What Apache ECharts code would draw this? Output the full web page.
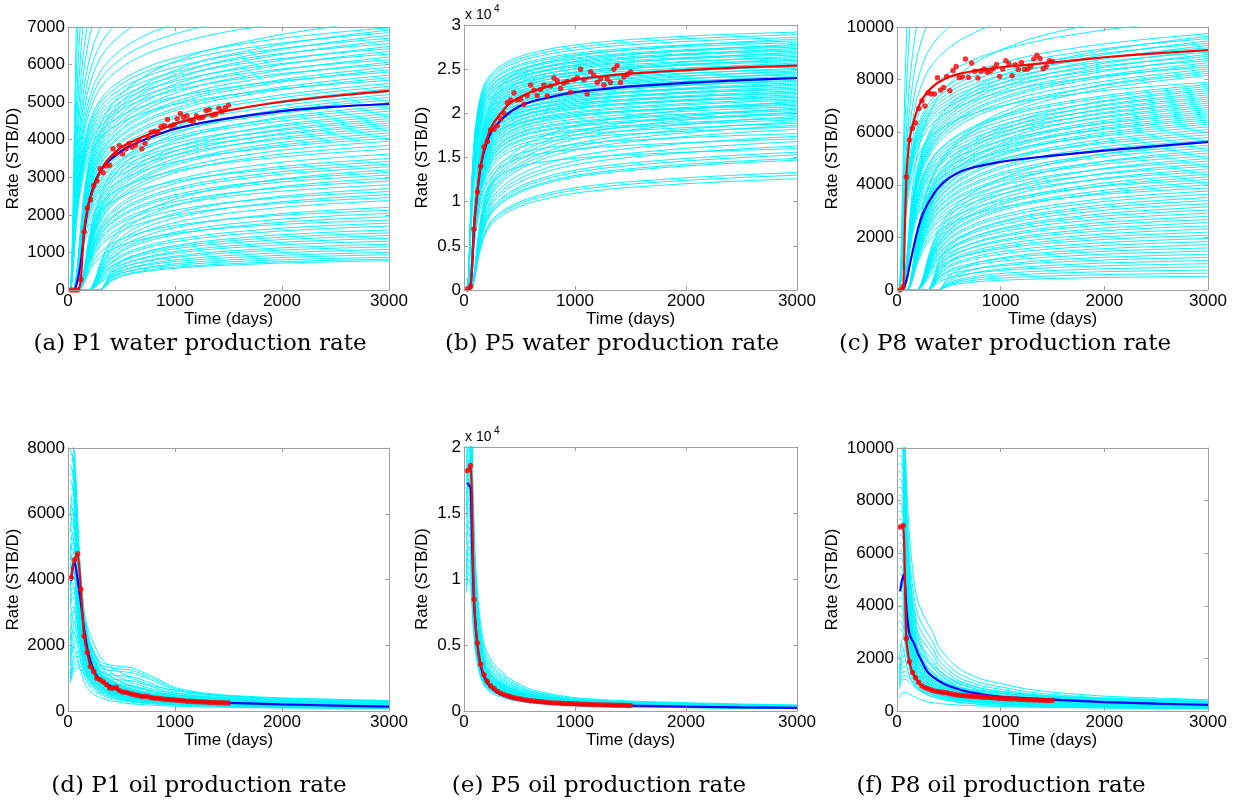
<!DOCTYPE html>
<html><head><meta charset="utf-8">
<script src="https://cdn.jsdelivr.net/npm/echarts@6/dist/echarts.min.js"></script>
<style>html,body{margin:0;padding:0;background:#fff}#c{width:1242px;height:810px}</style>
</head><body><div id="c"></div><script>
// ---------------- DATA ----------------
const CAPTIONS = ['(a) P1 water production rate','(b) P5 water production rate','(c) P8 water production rate',
                  '(d) P1 oil production rate','(e) P5 oil production rate','(f) P8 oil production rate'];
const X_TICKS = [0,1000,2000,3000];
// ensemble time grids (days)
const WATER_T = [0,20,40,60,80,100,125,150,175,200,250,300,350,400,500,600,800,1000,1250,1500,2000,2500,3000];
const OIL_T = [20,40,60,80,100,125,150,175,200,250,300,350,400,500,600,800,1000,1250,1500,2000,2500,3000];
// observation times (days)
const OBS_T = [30,60,90,120,150,180,210,240,270,300,330,360,390,420,450,480,510,540,570,600,630,660,690,720,750,780,810,840,870,900,930,960,990,1020,1050,1080,1110,1140,1170,1200,1230,1260,1290,1320,1350,1380,1410,1440,1470,1500];

// water ensemble shape profiles (fraction of the member's rate at 3000 d), read from the fans
const W_PROFILES = [
 [0,0,0.06,0.2,0.33,0.42,0.5,0.56,0.605,0.64,0.69,0.725,0.75,0.77,0.8,0.825,0.86,0.885,0.91,0.93,0.96,0.982,1],
 [0,0,0,0.01,0.06,0.14,0.26,0.36,0.43,0.485,0.56,0.61,0.65,0.68,0.725,0.76,0.81,0.845,0.88,0.905,0.945,0.975,1],
 [0,0,0,0,0,0,0.03,0.1,0.19,0.27,0.39,0.47,0.53,0.575,0.64,0.69,0.76,0.81,0.855,0.89,0.94,0.973,1],
 [0,0,0,0,0,0,0,0,0,0,0.08,0.22,0.33,0.41,0.52,0.595,0.69,0.755,0.815,0.86,0.925,0.968,1],
 [0,0,0,0,0,0,0,0,0,0,0,0,0.12,0.3,0.47,0.56,0.67,0.74,0.805,0.85,0.92,0.965,1],
 [0,0,0,0,0,0,0,0,0,0,0,0,0,0,0.3,0.46,0.62,0.71,0.785,0.84,0.915,0.962,1]
];
// (a) P1 water: members [rate at 3000 d, profile]
const A_MEMBERS = [[22000,0],[18000,0],[15000,0],[13000,0],[11500,0],[10500,0],[9600,0],[9000,0],[8500,0],[8000,0],[7700,0],[7400,0],[7200,1],
 [6980,0],[6920,1],[6850,0],[6780,1],[6700,0],[6640,1],[6560,0],[6480,1],[6420,0],[6350,1],[6280,0],[6200,1],[6130,0],[6060,1],[6000,0],[5930,1],[5860,1],[5800,0],[5720,1],[5650,1],[5580,0],[5500,1],
 [5420,1],[5350,2],[5280,1],[5200,1],[5130,2],[5060,1],[4980,1],[4900,2],[4830,1],[4760,1],[4690,2],[4620,1],[4560,2],[4500,1],[4440,2],[4380,1],[4320,2],[4250,1],[4180,2],[4110,2],[4040,1],[3960,2],
 [3850,2],[3750,1],[3620,2],[3500,2],[3420,1],[3350,2],[3280,2],[3200,3],[3130,2],[3060,2],[2980,3],[2900,2],[2800,2],[2700,3],[2620,2],[2540,3],[2460,2],[2380,3],
 [2200,3],[2120,2],[2040,3],[1950,3],[1860,2],[1780,3],[1700,3],[1600,4],[1520,3],[1450,3],[1380,4],[1300,3],[1220,4],[1150,3],[1080,4],[1000,3],[940,4],[870,3],[820,4],[780,4]];
const A_BLUE_T = [30,60,80,100,125,150,175,200,250,300,350,400,500,600,800,1000,1250,1500,2000,2500,3000];
const A_BLUE = [0,0,150,400,850,1500,2000,2380,2850,3150,3340,3480,3700,3860,4100,4290,4450,4570,4760,4880,4950];
const A_RED_T = [30,90,105,120,150,180,210,240,270,300,350,400,500,600,700,800,1000,1250,1500,2000,2500,3000];
const A_RED = [0,0,60,270,1550,2150,2450,2720,2950,3150,3380,3550,3800,3950,4080,4200,4420,4620,4780,5010,5170,5300];
const A_OBS = [0,0,0,270,1550,2180,2400,2780,2900,3230,3120,3300,3320,3760,3640,3840,3620,3760,3900,3800,3850,3980,3760,3900,4060,4200,4220,4200,4350,4380,4540,4360,4400,4560,4700,4600,4640,4520,4480,4640,4580,4600,4780,4800,4650,4680,4840,4750,4850,4920];

// (b) P5 water
const B_PROFILES = [
 [0,0,0.05,0.3,0.5,0.62,0.7,0.755,0.79,0.812,0.84,0.86,0.875,0.887,0.905,0.918,0.937,0.95,0.962,0.971,0.984,0.993,1],
 [0,0,0,0.06,0.22,0.37,0.5,0.59,0.65,0.695,0.755,0.795,0.823,0.845,0.873,0.892,0.916,0.932,0.947,0.958,0.975,0.989,1],
 [0,0,0,0,0.04,0.13,0.27,0.38,0.46,0.52,0.595,0.64,0.675,0.705,0.75,0.785,0.835,0.87,0.9,0.922,0.955,0.98,1]
];
const B_MEMBERS = [[29200,0],[28900,0],[28600,0],[28400,1],[28200,0],[28000,0],[27800,1],[27650,0],[27500,0],[27350,1],[27200,0],[27050,0],[26900,1],[26750,0],[26600,0],[26450,1],[26300,0],[26150,1],[26000,0],[25850,0],[25700,1],[25550,0],[25400,1],[25250,0],[25100,1],[24950,0],[24800,1],[24650,0],[24500,1],[24350,0],[24200,1],[24050,0],[23900,1],[23750,1],[23600,0],[23450,1],[23300,1],[23150,0],[23000,1],[22850,1],[22700,0],[22550,1],[22400,1],[22250,0],[22100,1],[21950,1],[21800,0],[21650,1],[21500,1],[21350,2],[21200,1],[21050,1],[20900,0],[20750,1],[20600,2],[20450,1],[20300,1],[20150,2],[20000,1],[19850,1],[19650,2],[19450,1],[19250,1],[19050,2],[18850,1],[18650,2],[18450,1],[18200,2],[17700,1],[17400,2],[17100,1],[16800,2],[16300,2],[16000,1],[15600,2],[15300,2],[14900,2],[14700,2],[13300,2],[13000,2],[12600,2]];
const B_LINE_T = [30,50,60,75,90,120,150,200,250,300,400,500,600,800,1000,1250,1500,2000,2500,3000];
const B_BLUE = [0,100,500,3000,7000,11000,14000,16500,18000,18800,20000,20800,21300,21900,22400,22750,23050,23450,23750,24000];
const B_RED = [0,100,500,3000,7000,11100,14100,16900,18500,19500,21000,21800,22400,23200,23800,24200,24500,24900,25200,25400];
const B_OBS = [100,400,6900,11100,14000,16200,16800,18100,18200,18600,19400,20000,21200,21500,22300,21500,21600,21000,22000,23200,22600,22000,22700,23200,22000,23100,24000,23700,22800,23400,23600,22400,23800,24000,25000,23800,22200,24700,24300,23500,23900,23200,23900,23500,25000,25400,23500,24100,24400,24700];

// (c) P8 water
const C_MEMBERS = [[25000,0],[20000,0],[16000,0],[14000,0],[12500,0],[11500,0],[10800,1],[10300,0],
 [9750,0],[9650,1],[9560,0],[9470,1],[9380,0],[9300,1],[9210,0],[9120,1],[9040,0],[8960,1],[8880,0],[8800,1],[8720,0],[8640,1],[8560,1],[8480,0],[8400,1],[8320,2],[8240,1],[8160,2],
 [7900,0],[7820,1],[7740,1],[7660,2],[7580,1],[7500,2],[7420,1],[7340,2],[7260,1],[7180,2],[7100,1],[7020,2],[6940,1],[6860,2],[6780,2],[6700,1],[6620,2],[6540,2],[6460,1],[6380,2],[6300,2],[6200,1],[6100,2],[6000,2],[5900,1],[5800,2],[5700,2],[5600,3],[5500,2],[5400,2],[5300,3],[5200,2],[5100,2],[5000,3],[4900,2],[4800,3],[4700,2],[4600,3],[4500,2],[4400,3],[4300,3],[4200,2],[4100,3],[4000,3],
 [3880,2],[3760,3],[3640,3],[3520,4],[3400,3],[3280,3],[3160,4],[3040,3],[2920,3],[2800,4],[2680,3],[2560,4],[2440,3],[2320,4],[2200,4],[2080,3],[1960,4],[1840,4],[1720,5],[1600,4],[1480,4],[1360,5],[1240,4],[1120,5],[1000,4],[880,5],[760,5],[640,5],[520,5]];
const C_LINE_T = [30,60,75,90,105,120,150,200,250,300,350,400,500,600,700,800,1000,1250,1500,2000,2500,3000];
const C_RED = [0,130,2200,4300,5100,5700,6250,6900,7300,7550,7750,7900,8100,8220,8300,8370,8470,8560,8650,8850,9000,9120];
const C_BLUE = [0,50,150,350,600,900,1450,2300,2900,3300,3630,3900,4250,4480,4620,4720,4870,5000,5110,5300,5470,5630];
const C_OBS = [0,130,4300,5700,6150,6350,6900,7200,7000,7500,7450,7450,8070,7600,7700,8120,7580,8350,8500,8070,8100,8780,8080,8630,8320,8060,8320,8400,8280,8320,8420,8570,8120,8400,8720,8600,8150,8560,8380,8650,8380,8400,8500,8780,8930,8800,8410,8500,8720,8690];

// (d) P1 oil: profiles are fractions of the member's peak rate
const D_PROFILES = [
 [1,1,0.95,0.8,0.62,0.47,0.36,0.29,0.24,0.18,0.145,0.125,0.11,0.09,0.075,0.06,0.05,0.043,0.037,0.03,0.026,0.022],
 [0.9,1,1,0.9,0.75,0.58,0.46,0.38,0.32,0.25,0.21,0.18,0.16,0.13,0.11,0.09,0.075,0.065,0.057,0.047,0.04,0.035],
 [0.65,0.85,0.95,1,1,0.95,0.88,0.8,0.72,0.6,0.5,0.45,0.41,0.35,0.3,0.23,0.19,0.16,0.14,0.115,0.1,0.09],
 [1,0.98,0.9,0.76,0.6,0.46,0.37,0.31,0.27,0.22,0.19,0.18,0.175,0.17,0.165,0.13,0.09,0.07,0.06,0.05,0.045,0.04]
];
const D_MEMBERS = [[8300,0],[8100,0],[7950,3],[7800,0],[7650,0],[7500,3],[7350,0],[7200,0],[7050,3],[6900,0],[6750,0],[6600,1],[6450,0],[6300,3],[6150,0],[6000,1],[5850,0],[5700,0],[5550,3],[5400,1],[5250,0],[5100,1],[4950,0],[4800,1],[4650,3],[4500,1],[4350,0],[4200,1],[4050,1],[3900,0],[3750,1],[3600,1],[3450,1],[3300,2],[3150,1],[3000,1],[2850,2],[2700,1],[2550,2],[2400,1],[2250,2],[2100,2],[1950,1],[1800,2],[1650,2],[1500,2],[1400,2],[1300,2]];
const D_BLUE_T = [30,45,60,75,90,120,150,180,210,240,270,300,400,500,700,1000,1500,2000,2500,3000];
const D_BLUE = [3950,4400,4550,4300,4000,3300,2500,1900,1500,1250,1060,950,750,600,450,330,250,200,165,135];
const D_OBS = [4050,4600,4780,3700,2280,1780,1350,1200,1000,950,880,800,700,690,720,620,580,570,540,510,490,470,440,450,430,400,390,390,370,360,350,340,340,330,320,310,300,300,290,280,280,270,270,260,260,255,250,250,245,240];

// (e) P5 oil
const E_PROFILES = [
 [1,1,0.95,0.6,0.38,0.26,0.19,0.15,0.125,0.1,0.085,0.074,0.066,0.054,0.046,0.037,0.031,0.027,0.024,0.02,0.017,0.015],
 [0.9,1,0.96,0.68,0.47,0.34,0.26,0.21,0.18,0.15,0.13,0.115,0.1,0.08,0.065,0.05,0.04,0.034,0.03,0.025,0.021,0.018]
];
const E_MEMBERS = [[27000,0],[26000,0],[25300,1],[24600,0],[24000,0],[23500,1],[23000,0],[22600,0],[22200,1],[21800,0],[21400,0],[21000,1],[20600,0],[20300,0],[20000,1],[19700,0],[19400,0],[19100,1],[18800,0],[18500,0],[18200,1],[17900,0],[17600,1],[17300,0],[17000,1],[16600,0],[16200,1],[15800,0],[15400,1],[15000,0],[14500,1],[14000,1],[13500,0],[13000,1],[12500,1],[12000,1],[11500,1],[11000,1],[10500,1],[10000,1]];
const E_BLUE_T = [30,45,60,75,90,120,150,180,210,300,400,500,700,1000,1500,2000,2500,3000];
const E_BLUE = [17300,17100,16900,12000,8300,5000,3400,2600,2100,1400,1050,850,650,500,400,330,280,240];
const E_OBS = [18200,18600,8450,5150,3550,2750,2250,1900,1700,1500,1350,1250,1150,1080,1000,950,900,860,820,780,750,720,700,680,650,630,610,600,580,570,560,550,540,530,520,510,500,490,480,470,465,460,455,450,445,440,435,430,425,420];

// (f) P8 oil
const F_PROFILES = [
 [1,1,0.97,0.7,0.5,0.38,0.3,0.25,0.21,0.17,0.14,0.125,0.11,0.09,0.078,0.062,0.052,0.046,0.041,0.034,0.03,0.026],
 [1,1,0.95,0.8,0.65,0.52,0.44,0.38,0.34,0.3,0.27,0.24,0.2,0.16,0.13,0.1,0.085,0.068,0.058,0.046,0.04,0.035],
 [0.7,0.9,1,1,0.97,0.9,0.82,0.75,0.68,0.58,0.5,0.45,0.41,0.36,0.32,0.27,0.24,0.21,0.19,0.17,0.16,0.15]
];
const F_MEMBERS = [[14000,0],[13000,0],[12300,1],[11700,0],[11200,0],[10800,1],[10400,0],[10000,0],[9700,1],[9400,0],[9100,0],[8800,1],[8500,0],[8200,0],[7900,1],[7600,0],[7300,0],[7000,1],[6700,0],[6400,0],[6100,1],[5800,0],[5500,1],[5200,0],[4900,1],[4600,1],[4300,0],[4000,1],[3700,1],[3400,1],[3100,1],[2800,2],[2500,1],[2300,2],[2100,2],[1900,2],[1700,2],[1500,2],[1350,2],[1200,2],[700,2]];
const F_BLUE_T = [30,50,68,80,93,122,167,200,232,296,400,500,700,1000,1500,2000,2500,3000];
const F_BLUE = [4550,5000,5200,4700,3800,2900,2550,2200,1950,1480,1150,950,720,540,430,340,280,230];
const F_OBS = [7000,7050,2760,1870,1460,1260,1080,950,880,850,800,760,740,720,700,690,660,640,620,600,590,580,570,560,550,540,530,520,520,510,500,490,480,480,470,470,460,470,450,440,440,430,430,420,420,410,410,400,400,410];

// ---------------- LAYOUT / STYLE ----------------
const PANELS = [
 {grid:{left:68,top:27,width:321,height:263}, ymax:7000, yint:1000, sci:false, nameGap:46,
  T:WATER_T, prof:W_PROFILES, mem:A_MEMBERS, blueT:A_BLUE_T, blue:A_BLUE, redT:A_RED_T, red:A_RED, obs:A_OBS, cap:[200,344]},
 {grid:{left:464,top:25,width:333,height:265}, ymax:30000, yint:5000, sci:true, nameGap:33,
  T:WATER_T, prof:B_PROFILES, mem:B_MEMBERS, blueT:B_LINE_T, blue:B_BLUE, redT:B_LINE_T, red:B_RED, obs:B_OBS, cap:[612,344]},
 {grid:{left:897,top:27,width:311,height:263}, ymax:10000, yint:2000, sci:false, nameGap:56,
  T:WATER_T, prof:W_PROFILES, mem:C_MEMBERS, blueT:C_LINE_T, blue:C_BLUE, redT:C_LINE_T, red:C_RED, obs:C_OBS, cap:[1005,344]},
 {grid:{left:68,top:448,width:321,height:263}, ymax:8000, yint:2000, sci:false, nameGap:46,
  T:OIL_T, prof:D_PROFILES, mem:D_MEMBERS, blueT:D_BLUE_T, blue:D_BLUE, redT:OBS_T, red:D_OBS, obs:D_OBS, cap:[199,786]},
 {grid:{left:464,top:447,width:333,height:264}, ymax:20000, yint:5000, sci:true, nameGap:33,
  T:OIL_T, prof:E_PROFILES, mem:E_MEMBERS, blueT:E_BLUE_T, blue:E_BLUE, redT:OBS_T, red:E_OBS, obs:E_OBS, cap:[599,786]},
 {grid:{left:897,top:448,width:311,height:263}, ymax:10000, yint:2000, sci:false, nameGap:56,
  T:OIL_T, prof:F_PROFILES, mem:F_MEMBERS, blueT:F_BLUE_T, blue:F_BLUE, redT:OBS_T, red:F_OBS, obs:F_OBS, cap:[1001,786]}
];
const CYAN = '#00f4ff', BOX = '#a0a0a0';
const FONT = "'Liberation Sans', Arial, Helvetica, sans-serif";
const SERIF = "'DejaVu Serif', serif";
const zip = (xs, ys) => xs.map((x, i) => [x, ys[i]]);

const grids = [], xAxes = [], yAxes = [], series = [], graphics = [];
PANELS.forEach((p, g) => {
  grids.push(Object.assign({show:false}, p.grid));
  const tick = {show:true, inside:true, length:4, lineStyle:{color:BOX}};
  const line = {show:true, onZero:false, lineStyle:{color:BOX, width:1}};
  const lab = {color:'#000', fontSize:17, fontFamily:FONT, margin:3};
  xAxes.push({gridIndex:g, type:'value', position:'bottom', min:X_TICKS[0], max:X_TICKS[X_TICKS.length-1], interval:1000, z:10,
    axisLine:line, axisTick:tick, axisLabel:Object.assign({}, lab, {formatter: v => String(v)}), splitLine:{show:false},
    name:'Time (days)', nameLocation:'middle', nameGap:21, nameTextStyle:{color:'#000', fontSize:17, fontFamily:FONT}});
  xAxes.push({gridIndex:g, type:'value', position:'top', min:0, max:3000, interval:1000, z:10,
    axisLine:line, axisTick:tick, axisLabel:{show:false}, splitLine:{show:false}});
  yAxes.push({gridIndex:g, type:'value', position:'left', min:0, max:p.ymax, interval:p.yint, z:10,
    axisLine:line, axisTick:tick, splitLine:{show:false},
    axisLabel:Object.assign({}, lab, {formatter: v => p.sci ? String(v/10000) : String(v)}),
    name:'Rate (STB/D)', nameLocation:'middle', nameGap:p.nameGap, nameTextStyle:{color:'#000', fontSize:17, fontFamily:FONT}});
  yAxes.push({gridIndex:g, type:'value', position:'right', min:0, max:p.ymax, interval:p.yint, z:10,
    axisLine:line, axisTick:tick, axisLabel:{show:false}, splitLine:{show:false}});
  const xi = 2*g, yi = 2*g;
  p.mem.forEach(m => {
    const prof = p.prof[m[1]];
    series.push({type:'line', xAxisIndex:xi, yAxisIndex:yi, silent:true, showSymbol:false, symbol:'none',
      smooth:0.2, z:2, lineStyle:{color:CYAN, width:1}, data:p.T.map((t, i) => [t, m[0]*prof[i]])});
  });
  series.push({type:'line', xAxisIndex:xi, yAxisIndex:yi, silent:true, symbol:'none', smooth:0.2, z:3,
    lineStyle:{color:'#0000ff', width:2.2}, data:zip(p.blueT, p.blue)});
  series.push({type:'line', xAxisIndex:xi, yAxisIndex:yi, silent:true, symbol:'none', smooth:0.2, z:4,
    lineStyle:{color:'#ff0000', width:2.2}, data:zip(p.redT, p.red)});
  series.push({type:'scatter', xAxisIndex:xi, yAxisIndex:yi, silent:true, symbol:'circle', symbolSize:5.5, z:5,
    itemStyle:{color:'#ff0000'}, data:zip(OBS_T, p.obs)});
  if (p.sci) {
    graphics.push({type:'text', x:p.grid.left+1, y:p.grid.top-3, z:20,
      style:{text:'x 10', fontSize:14, fontFamily:FONT, fill:'#000', align:'left', verticalAlign:'bottom', textAlign:'left', textVerticalAlign:'bottom'}});
    graphics.push({type:'text', x:p.grid.left+30, y:p.grid.top-11, z:20,
      style:{text:'4', fontSize:10, fontFamily:FONT, fill:'#000', align:'left', verticalAlign:'bottom', textAlign:'left', textVerticalAlign:'bottom'}});
  }
  graphics.push({type:'text', x:p.cap[0], y:p.cap[1], z:20,
    style:{text:CAPTIONS[g], fontSize:23, fontFamily:SERIF, fill:'#000',
      align:'center', verticalAlign:'middle', textAlign:'center', textVerticalAlign:'middle'}});
});

const chart = echarts.init(document.getElementById('c'), null, {renderer:'canvas'});
chart.setOption({animation:false, backgroundColor:'#fff', grid:grids, xAxis:xAxes, yAxis:yAxes, series:series, graphic:graphics});
</script></body></html>
